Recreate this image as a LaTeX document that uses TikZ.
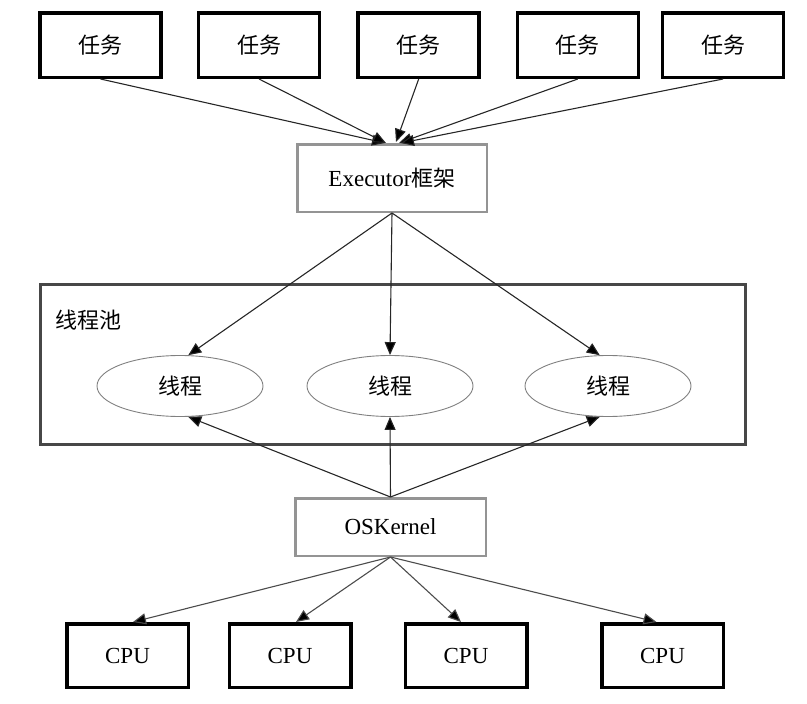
\documentclass[tikz,border=0pt]{standalone}
\usepackage{fontspec}
\setmainfont{Liberation Serif}
\newfontfamily\cjk{Noto Sans CJK SC}
\usetikzlibrary{arrows.meta,shapes.geometric,calc}
\begin{document}
\begin{tikzpicture}[x=1pt,y=-1pt,
  task/.style={draw=black,line width=3.5pt,minimum width=121pt,minimum height=64.5pt,inner sep=0pt,font=\cjk\fontsize{22}{26}\selectfont},
  cpubox/.style={draw=black,line width=3.5pt,minimum width=121.5pt,minimum height=63.5pt,inner sep=0pt,font=\fontsize{23}{26}\selectfont},
  graybox/.style={draw=black!42,line width=2.5pt,inner sep=0pt,font=\fontsize{23}{26}\selectfont},
  pool/.style={draw=black!72,line width=3pt},
  thr/.style={ellipse,draw=black!50,line width=0.9pt,minimum width=166pt,minimum height=61pt,inner sep=0pt,font=\cjk\fontsize{22}{26}\selectfont},
  arr/.style={draw=black!85,line width=1.1pt,-{Triangle[length=13pt,width=11pt,fill=black]}},
  garr/.style={draw=black!70,line width=1.1pt,-{Triangle[length=13pt,width=11pt,fill=black]}}
]
\useasboundingbox (0,0) rectangle (807,704);

% tasks
\node[task] (t1) at (100.5,45) {任务};
\node[task] (t2) at (259,45) {任务};
\node[task] (t3) at (418.7,45) {任务};
\node[task] (t4) at (577.8,45) {任务};
\node[task] (t5) at (723,45) {任务};

% executor
\node[graybox,minimum width=189.5pt,minimum height=67.5pt] (ex) at (392,178) {Executor{\cjk\fontsize{22}{26}\selectfont 框架}};

% thread pool
\node[pool,minimum width=705pt,minimum height=160pt,inner sep=0pt] (pl) at (393,364.5) {};
\node[anchor=west,inner sep=0pt,font=\cjk\fontsize{22}{26}\selectfont] (pll) at (55,320) {线程池};

\node[thr] (e1) at (180,386) {线程};
\node[thr] (e2) at (390,386) {线程};
\node[thr] (e3) at (608,386) {线程};

% OS kernel
\node[graybox,minimum width=190.5pt,minimum height=57.5pt] (os) at (390.5,527) {OSKernel};

% CPUs
\node[cpubox] (c1) at (127.5,655.5) {CPU};
\node[cpubox] (c2) at (290,655.5) {CPU};
\node[cpubox] (c3) at (466,655.5) {CPU};
\node[cpubox] (c4) at (662.5,655.5) {CPU};

% task -> executor
\draw[arr] (t1.south) -- ($(ex.north)+(-7,0)$);
\draw[arr] (t2.south) -- ($(ex.north)+(-6,0)$);
\draw[arr] (t3.south) -- ($(ex.north)+(4,-1)$);
\draw[arr] (t4.south) -- ($(ex.north)+(7,0)$);
\draw[arr] (t5.south) -- ($(ex.north)+(9,0)$);

% executor -> threads
\draw[arr] (ex.south) -- (e1.75);
\draw[arr] (ex.south) -- (e2.north);
\draw[arr] (ex.south) -- (e3.105);

% kernel -> threads
\draw[arr] (os.north) -- (e1.285);
\draw[arr] (os.north) -- (e2.south);
\draw[arr] (os.north) -- (e3.255);

% kernel -> cpus
\draw[garr] (os.south) -- ($(c1.north)+(5.5,0)$);
\draw[garr] (os.south) -- ($(c2.north)+(6,0)$);
\draw[garr] (os.south) -- ($(c3.north)+(-5,0)$);
\draw[garr] (os.south) -- ($(c4.north)+(-6,0)$);
\end{tikzpicture}
\end{document}
